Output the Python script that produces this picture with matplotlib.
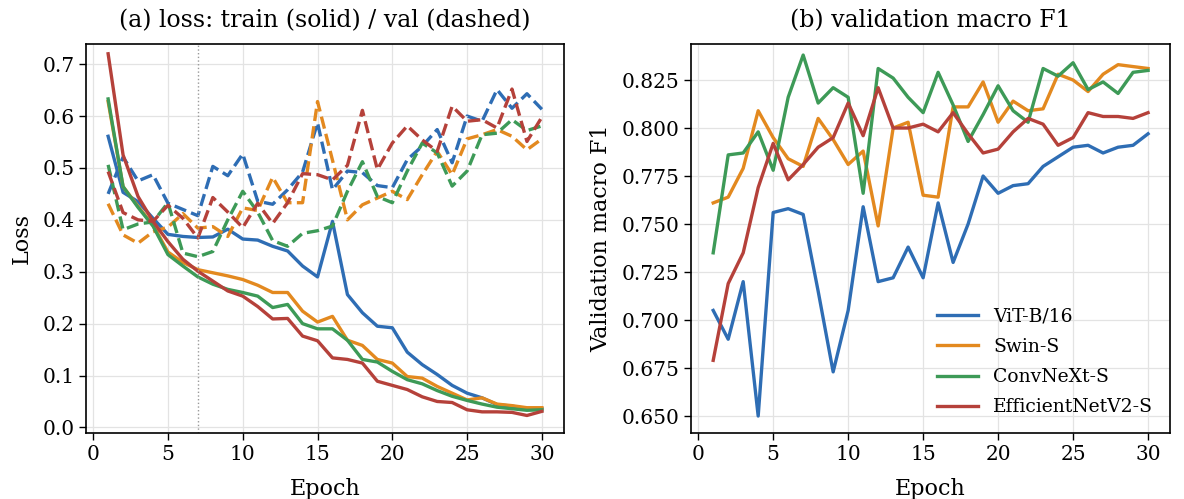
import matplotlib
matplotlib.use("Agg")
import matplotlib.pyplot as plt
import numpy as np

plt.rcParams['font.family'] = ['DejaVu Serif']

epochs = list(range(1, 31))
models = ["ViT-B/16", "Swin-S", "ConvNeXt-S", "EfficientNetV2-S"]
colors = ["#2e6db4", "#e3891f", "#3d9a57", "#b5413a"]

train_vit = [0.561, 0.453, 0.435, 0.403, 0.372, 0.368, 0.366, 0.367, 0.382, 0.363,
             0.361, 0.349, 0.340, 0.311, 0.290, 0.397, 0.256, 0.221, 0.195, 0.192,
             0.145, 0.121, 0.102, 0.081, 0.066, 0.057, 0.044, 0.041, 0.036, 0.036]
train_swin = [0.628, 0.464, 0.426, 0.390, 0.338, 0.318, 0.304, 0.298, 0.292, 0.285,
              0.274, 0.260, 0.260, 0.224, 0.203, 0.214, 0.168, 0.158, 0.131, 0.124,
              0.098, 0.095, 0.079, 0.066, 0.053, 0.057, 0.045, 0.042, 0.038, 0.038]
train_convnext = [0.633, 0.464, 0.424, 0.388, 0.333, 0.311, 0.290, 0.276, 0.266, 0.260,
                  0.253, 0.231, 0.237, 0.200, 0.190, 0.190, 0.168, 0.131, 0.126, 0.108,
                  0.092, 0.084, 0.071, 0.060, 0.052, 0.045, 0.039, 0.036, 0.033, 0.034]
train_effnet = [0.720, 0.525, 0.445, 0.397, 0.358, 0.324, 0.301, 0.282, 0.263, 0.253,
                0.233, 0.209, 0.210, 0.176, 0.167, 0.134, 0.131, 0.124, 0.089, 0.081,
                0.073, 0.059, 0.050, 0.048, 0.034, 0.030, 0.030, 0.029, 0.023, 0.031]

val_vit = [0.450, 0.521, 0.475, 0.487, 0.432, 0.420, 0.408, 0.503, 0.485, 0.527,
           0.436, 0.430, 0.458, 0.492, 0.587, 0.458, 0.494, 0.491, 0.466, 0.462,
           0.516, 0.542, 0.574, 0.510, 0.600, 0.590, 0.651, 0.615, 0.643, 0.613]
val_swin = [0.431, 0.371, 0.355, 0.377, 0.386, 0.412, 0.384, 0.387, 0.368, 0.423,
            0.418, 0.482, 0.433, 0.433, 0.628, 0.515, 0.400, 0.429, 0.442, 0.455,
            0.439, 0.487, 0.532, 0.487, 0.556, 0.564, 0.574, 0.561, 0.535, 0.556]
val_convnext = [0.506, 0.381, 0.392, 0.396, 0.433, 0.336, 0.329, 0.339, 0.400, 0.455,
                0.415, 0.360, 0.349, 0.374, 0.379, 0.388, 0.455, 0.512, 0.445, 0.433,
                0.494, 0.548, 0.529, 0.465, 0.494, 0.564, 0.567, 0.593, 0.572, 0.581]
val_effnet = [0.493, 0.414, 0.400, 0.397, 0.428, 0.403, 0.365, 0.443, 0.415, 0.385,
              0.432, 0.393, 0.433, 0.489, 0.487, 0.477, 0.505, 0.611, 0.497, 0.548,
              0.581, 0.554, 0.532, 0.619, 0.590, 0.593, 0.577, 0.652, 0.551, 0.598]

f1_vit = [0.705, 0.690, 0.720, 0.650, 0.756, 0.758, 0.755, 0.715, 0.673, 0.705,
          0.759, 0.720, 0.722, 0.738, 0.722, 0.761, 0.730, 0.750, 0.775, 0.766,
          0.770, 0.771, 0.780, 0.785, 0.790, 0.791, 0.787, 0.790, 0.791, 0.797]
f1_swin = [0.761, 0.764, 0.779, 0.809, 0.795, 0.784, 0.780, 0.805, 0.794, 0.781,
           0.788, 0.749, 0.800, 0.803, 0.765, 0.764, 0.811, 0.811, 0.824, 0.803,
           0.814, 0.809, 0.810, 0.828, 0.825, 0.819, 0.828, 0.833, 0.832, 0.831]
f1_convnext = [0.735, 0.786, 0.787, 0.798, 0.778, 0.816, 0.838, 0.813, 0.821, 0.816,
               0.766, 0.831, 0.826, 0.816, 0.808, 0.829, 0.812, 0.793, 0.807, 0.822,
               0.809, 0.803, 0.831, 0.827, 0.834, 0.820, 0.824, 0.818, 0.829, 0.830]
f1_effnet = [0.679, 0.719, 0.735, 0.769, 0.792, 0.773, 0.781, 0.790, 0.795, 0.813,
             0.796, 0.821, 0.800, 0.800, 0.802, 0.798, 0.808, 0.797, 0.787, 0.789,
             0.798, 0.805, 0.802, 0.791, 0.795, 0.808, 0.806, 0.806, 0.805, 0.808]

best_epoch = 7

train_all = [train_vit, train_swin, train_convnext, train_effnet]
val_all = [val_vit, val_swin, val_convnext, val_effnet]
f1_all = [f1_vit, f1_swin, f1_convnext, f1_effnet]

fig = plt.figure(figsize=(11.84, 4.99), dpi=100)
ax1 = fig.add_axes([0.073, 0.132, 0.403, 0.780])
ax2 = fig.add_axes([0.584, 0.132, 0.404, 0.780])

lw = 2.4
for tr, va, c in zip(train_all, val_all, colors):
    ax1.plot(epochs, tr, color=c, lw=lw, ls='-')
    ax1.plot(epochs, va, color=c, lw=lw, ls='--')
ax1.axvline(best_epoch, color='#999999', lw=1.0, ls=':')

for f1, c, m in zip(f1_all, colors, models):
    ax2.plot(epochs, f1, color=c, lw=lw, label=m)

ax1.set_ylim(-0.011, 0.739)
ax2.set_ylim(0.6411, 0.8438)
for ax in (ax1, ax2):
    ax.set_xlim(-0.45, 31.45)
    ax.set_xticks([0, 5, 10, 15, 20, 25, 30])
    ax.grid(True, color='#e3e3e3', lw=0.9)
    ax.set_axisbelow(True)
    for s in ax.spines.values():
        s.set_color('black')
        s.set_linewidth(1.2)
    ax.tick_params(direction='out', length=5, width=1.0, labelsize=14.5, colors='black')
    ax.set_xlabel('Epoch', fontsize=16, labelpad=10)

ax1.set_yticks(np.arange(0.0, 0.71, 0.1))
ax1.yaxis.set_major_formatter(matplotlib.ticker.FormatStrFormatter('%.1f'))
ax2.set_yticks(np.arange(0.650, 0.8251, 0.025))
ax2.yaxis.set_major_formatter(matplotlib.ticker.FormatStrFormatter('%.3f'))

ax1.set_ylabel('Loss', fontsize=16, labelpad=7)
ax2.set_ylabel('Validation macro F1', fontsize=16, labelpad=7)
ax1.set_title('(a) loss: train (solid) / val (dashed)', fontsize=17, pad=12)
ax2.set_title('(b) validation macro F1', fontsize=17, pad=12)

ax2.legend(loc='lower right', frameon=False, fontsize=13.5, handlelength=2.2,
           labelspacing=0.65)

fig.savefig('out.png', dpi=100)
